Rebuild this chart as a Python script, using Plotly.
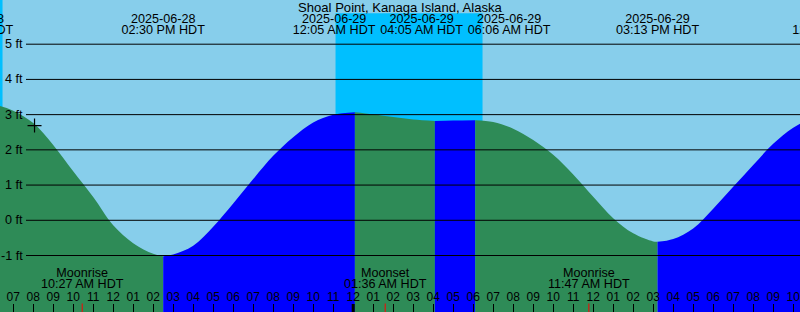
import plotly.graph_objects as go
import pandas as pd

TITLE = "Shoal Point, Kanaga Island, Alaska"

# Tide curve (ft)
curve_times = [
    "2025-06-28 06:00", "2025-06-28 07:00", "2025-06-28 08:00", "2025-06-28 09:00",
    "2025-06-28 10:00", "2025-06-28 11:00", "2025-06-28 12:00", "2025-06-28 13:00",
    "2025-06-28 14:00", "2025-06-28 15:00", "2025-06-28 16:00", "2025-06-28 17:00",
    "2025-06-28 18:00", "2025-06-28 19:00", "2025-06-28 20:00", "2025-06-28 21:00",
    "2025-06-28 22:00", "2025-06-28 23:00",
    "2025-06-29 01:00", "2025-06-29 02:00", "2025-06-29 03:00", "2025-06-29 05:00",
    "2025-06-29 07:00", "2025-06-29 08:00", "2025-06-29 09:00", "2025-06-29 10:00",
    "2025-06-29 11:00", "2025-06-29 12:00", "2025-06-29 13:00", "2025-06-29 14:00",
    "2025-06-29 15:00", "2025-06-29 16:00", "2025-06-29 17:00", "2025-06-29 18:00",
    "2025-06-29 19:00", "2025-06-29 20:00", "2025-06-29 21:00", "2025-06-29 22:00",
    "2025-06-29 23:00",
]
curve_levels = [
    3.29, 3.11, 2.76, 2.14,
    1.39, 0.66, -0.14, -0.65,
    -0.95, -0.97, -0.72, -0.18,
    0.48, 1.17, 1.83, 2.36,
    2.78, 3.00,
    3.01, 2.93, 2.86, 2.83,
    2.79, 2.60, 2.28, 1.86,
    1.30, 0.67, 0.06, -0.37,
    -0.60, -0.53, -0.23, 0.33,
    0.95, 1.57, 2.17, 2.63,
    2.90,
]

# High / low tide events
event_times = ["2025-06-28 04:56", "2025-06-28 14:30", "2025-06-29 00:05",
               "2025-06-29 04:05", "2025-06-29 06:06", "2025-06-29 15:13",
               "2025-06-30 00:01"]
event_levels = [3.35, -1.02, 3.07, 2.82, 2.84, -0.61, 3.00]

# Moon events
moon_times = ["2025-06-28 10:27", "2025-06-29 01:36", "2025-06-29 11:47"]
moon_names = ["Moonrise", "Moonset", "Moonrise"]

# Night (sunset -> sunrise)
night_starts = ["2025-06-27 23:07", "2025-06-28 23:07"]
night_ends = ["2025-06-28 06:28", "2025-06-29 06:28"]

level_ticks = [-1, 0, 1, 2, 3, 4, 5]
level_labels = ["-1 ft", "0 ft", "1 ft", "2 ft", "3 ft", "4 ft", "5 ft"]

mark_time = ["2025-06-28 08:04"]
mark_level = [2.69]

x_range = ["2025-06-28 06:20:24", "2025-06-29 22:20:24"]
y_range = [-2.604, 6.255]

SKY = "#87CEEB"
NIGHT = "#00BFFF"
RISE = "#0000FF"
FALL = "#2E8B57"
FONT = "Liberation Sans, Arial, sans-serif"
FLOOR = -3.5
WIDTH = 800
LABEL_GAP_PX = 87.5   # minimum spacing between tide-event label centres

fig = go.Figure()

ct = pd.to_datetime(curve_times)
et = pd.to_datetime(event_times)
pts = sorted(list(zip(ct, curve_levels)) + list(zip(et, event_levels)))

for i in range(len(et) - 1):
    a, b = et[i], et[i + 1]
    seg = [(t, v) for t, v in pts if a <= t <= b]
    color = RISE if event_levels[i + 1] > event_levels[i] else FALL
    fig.add_trace(go.Scatter(x=[a, b], y=[FLOOR, FLOOR], mode="lines",
                             line=dict(width=0, color=color), hoverinfo="skip",
                             showlegend=False))
    fig.add_trace(go.Scatter(x=[t for t, _ in seg], y=[v for _, v in seg],
                             mode="lines", line=dict(width=0, color=color, shape="spline"),
                             fill="tonexty", fillcolor=color, showlegend=False))

# mark on curve
fig.add_trace(go.Scatter(x=pd.to_datetime(mark_time), y=mark_level, mode="markers",
                         marker=dict(symbol="cross-thin", size=10,
                                     line=dict(width=1.2, color="black")),
                         showlegend=False))

# spread overlapping event labels apart (like the original chart does)
x0 = pd.Timestamp(x_range[0])
span_h = (pd.Timestamp(x_range[1]) - x0).total_seconds() / 3600
gap_h = LABEL_GAP_PX * span_h / WIDTH
centers = [(t - x0).total_seconds() / 3600 for t in et]


def spread(cs, gap):
    groups = [[c] for c in cs]
    changed = True
    while changed:
        changed = False
        ext = []
        for g in groups:
            m = sum(g) / len(g)
            ext.append((m - gap * (len(g) - 1) / 2, m + gap * (len(g) - 1) / 2))
        for k in range(len(groups) - 1):
            if ext[k + 1][0] - ext[k][1] < gap:
                groups[k] = groups[k] + groups[k + 1]
                del groups[k + 1]
                changed = True
                break
    out = []
    for g in groups:
        m = sum(g) / len(g)
        out += [m + gap * (j - (len(g) - 1) / 2) for j in range(len(g))]
    return out


label_x = [x0 + pd.Timedelta(hours=h) for h in spread(centers, gap_h)]

txt = dict(family=FONT, size=12.6, color="black")
fig.add_trace(go.Scatter(x=label_x, y=[19.5] * len(et), yaxis="y2", mode="text",
                         text=[t.strftime("%Y-%m-%d") for t in et],
                         textposition="middle center", cliponaxis=True,
                         textfont=txt, showlegend=False))
fig.add_trace(go.Scatter(x=label_x, y=[31.3] * len(et), yaxis="y2", mode="text",
                         text=[t.strftime("%I:%M %p HDT") for t in et],
                         textposition="middle center", cliponaxis=True,
                         textfont=txt, showlegend=False))

mt = pd.to_datetime(moon_times)
fig.add_trace(go.Scatter(x=mt, y=[273.8] * len(mt), yaxis="y2", mode="text",
                         text=moon_names, textposition="middle center", cliponaxis=True,
                         textfont=txt, showlegend=False))
fig.add_trace(go.Scatter(x=mt, y=[285.0] * len(mt), yaxis="y2", mode="text",
                         text=[t.strftime("%I:%M %p HDT") for t in mt],
                         textposition="middle center", cliponaxis=True,
                         textfont=txt, showlegend=False))

shapes = []
for s, e in zip(night_starts, night_ends):
    shapes.append(dict(type="rect", xref="x", yref="paper", x0=s, x1=e, y0=0, y1=1,
                       fillcolor=NIGHT, line=dict(width=0), layer="below"))
# title backdrop
shapes.append(dict(type="rect", xref="paper", yref="y2", x0=0.37, x1=0.63, y0=0, y1=13.3,
                   fillcolor=SKY, line=dict(width=0), layer="below"))
for lv in level_ticks:
    shapes.append(dict(type="line", xref="paper", yref="y", x0=26 / WIDTH, x1=1,
                       y0=lv, y1=lv, line=dict(color="black", width=1), layer="above"))
# midnight tick
shapes.append(dict(type="line", xref="x", yref="y2", x0="2025-06-29 00:00",
                   x1="2025-06-29 00:00", y0=304, y1=312,
                   line=dict(color="black", width=3), layer="above"))
for t in moon_times:
    shapes.append(dict(type="line", xref="x", yref="y2", x0=t, x1=t, y0=303.5, y1=312,
                       line=dict(color="red", width=1), layer="above"))

annotations = [dict(text=TITLE, xref="paper", yref="y2", x=0.5, y=7.3,
                    xanchor="center", yanchor="middle", showarrow=False,
                    font=dict(family=FONT, size=13.1, color="black"))]
for lv, lab in zip(level_ticks, level_labels):
    annotations.append(dict(text=lab, xref="paper", yref="y", x=25 / WIDTH, y=lv,
                            xanchor="right", yanchor="middle", showarrow=False,
                            font=txt))

fig.update_layout(
    width=WIDTH, height=312, autosize=False,
    margin=dict(l=0, r=0, t=0, b=0, pad=0),
    paper_bgcolor=SKY, plot_bgcolor=SKY,
    showlegend=False,
    shapes=shapes, annotations=annotations,
    xaxis=dict(type="date", range=x_range, tick0="2025-06-28 00:00", dtick=3600000,
               tickformat="%I", ticks="inside", ticklen=8, tickwidth=1, tickcolor="black",
               ticklabelposition="inside", ticklabeloverflow="allow",
               showgrid=False, zeroline=False, showline=False,
               tickfont=dict(family=FONT, size=12, color="black"), fixedrange=True),
    yaxis=dict(range=y_range, showgrid=False, zeroline=False, showticklabels=False,
               ticks="", fixedrange=True),
    yaxis2=dict(overlaying="y", range=[312, 0], visible=False, fixedrange=True),
)

fig.write_html("out.html")
